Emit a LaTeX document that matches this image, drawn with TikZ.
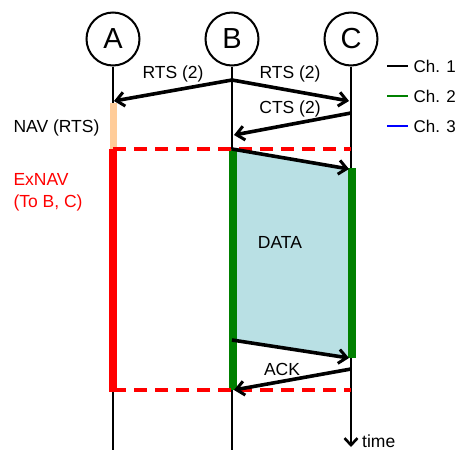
\documentclass[tikz,border=0pt]{standalone}
\usepackage{fontspec}
\setmainfont{Liberation Sans}
\usetikzlibrary{arrows.meta}
\definecolor{peach}{RGB}{255,204,153}
\definecolor{datablue}{RGB}{185,224,228}
\definecolor{chgreen}{RGB}{0,128,0}
\begin{document}
\begin{tikzpicture}[x=1pt,y=-1pt,
  station/.style={circle,draw,line width=2pt,minimum size=53pt,inner sep=0pt,font=\fontsize{29}{29}\selectfont},
  life/.style={line width=2.8pt},
  msg/.style={line width=3.6pt,-{Straight Barb[length=8pt,width=14pt,line width=3pt]}},
  lbl/.style={font=\fontsize{17.5}{22}\selectfont},
  navdash/.style={red,line width=3.4pt,dash pattern=on 13pt off 8pt},
  legtext/.style={font=\fontsize{17}{19}\selectfont,anchor=west}]
\useasboundingbox (0,0) rectangle (464,450);
% stations
\node[station] (A) at (113,39) {A};
\node[station] (B) at (232,39) {B};
\node[station] (C) at (351,39) {C};
% coordinates
\coordinate (Aend) at (113,450);
\coordinate (Bend) at (232,450);
\coordinate (Cend) at (351,447);
\coordinate (Brts) at (232,80);
\coordinate (Arts) at (114,101);
\coordinate (Crts) at (349,101);
\coordinate (Ccts) at (351,113);
\coordinate (Bcts) at (234,135);
\coordinate (Bd1) at (232,149);
\coordinate (Cd1) at (349,169);
\coordinate (Bd2) at (232,340);
\coordinate (Cd2) at (349,358);
\coordinate (Cack) at (351,369);
\coordinate (Back) at (234,390);
\coordinate (Anav1) at (113,149);
\coordinate (Cnav1) at (351,149);
\coordinate (Anav2) at (113,390);
\coordinate (Cnav2) at (351,390);
% data area
\fill[datablue] (232,149) -- (351,169) -- (351,358) -- (232,340) -- cycle;
% lifelines
\draw[life] (A.south) -- (Aend);
\draw[life] (B.south) -- (Bend);
\draw[life,-{Straight Barb[length=7pt,width=13pt,line width=2.6pt]}] (C.south) -- (Cend);
% NAV bars
\fill[peach] (110,103) rectangle (116.5,149);
\fill[red] (109,149) rectangle (117,392);
\fill[chgreen] (229,149) rectangle (237,390);
\fill[chgreen] (348,168) rectangle (356,358);
% dashed NAV lines
\draw[navdash] (Anav1) -- (Cnav1);
\draw[navdash] (Anav2) -- (Cnav2);
% messages
\draw[msg] (Brts) -- (Arts);
\draw[msg] (Brts) -- (Crts);
\draw[msg] (Ccts) -- (Bcts);
\draw[msg] (Bd1) -- (Cd1);
\draw[msg] (Bd2) -- (Cd2);
\draw[msg] (Cack) -- (Back);
% labels
\node[lbl] (lrts1) at (173,74) {RTS (2)};
\node[lbl] (lrts2) at (290,74) {RTS (2)};
\node[lbl] (lcts) at (290,109) {CTS (2)};
\node[lbl] (ldata) at (280,242) {DATA};
\node[lbl] (lack) at (282,369) {ACK};
\node[lbl,anchor=west] (lnav) at (10,128) {NAV (RTS)};
\node[lbl,anchor=west,red,align=left] (lexnav) at (10,192) {ExNAV\\(To B, C)};
\node[lbl,anchor=base west,inner sep=0pt] (ltime) at (362,447) {time};
% legend
\draw[line width=2.6pt] (387,66) -- (408,66);
\node[legtext] (l1) at (410,66) {Ch. 1};
\draw[line width=2.6pt,chgreen] (387,96) -- (408,96);
\node[legtext] (l2) at (410,96) {Ch. 2};
\draw[line width=2.6pt,blue] (387,126) -- (408,126);
\node[legtext] (l3) at (410,126) {Ch. 3};
\end{tikzpicture}
\end{document}
